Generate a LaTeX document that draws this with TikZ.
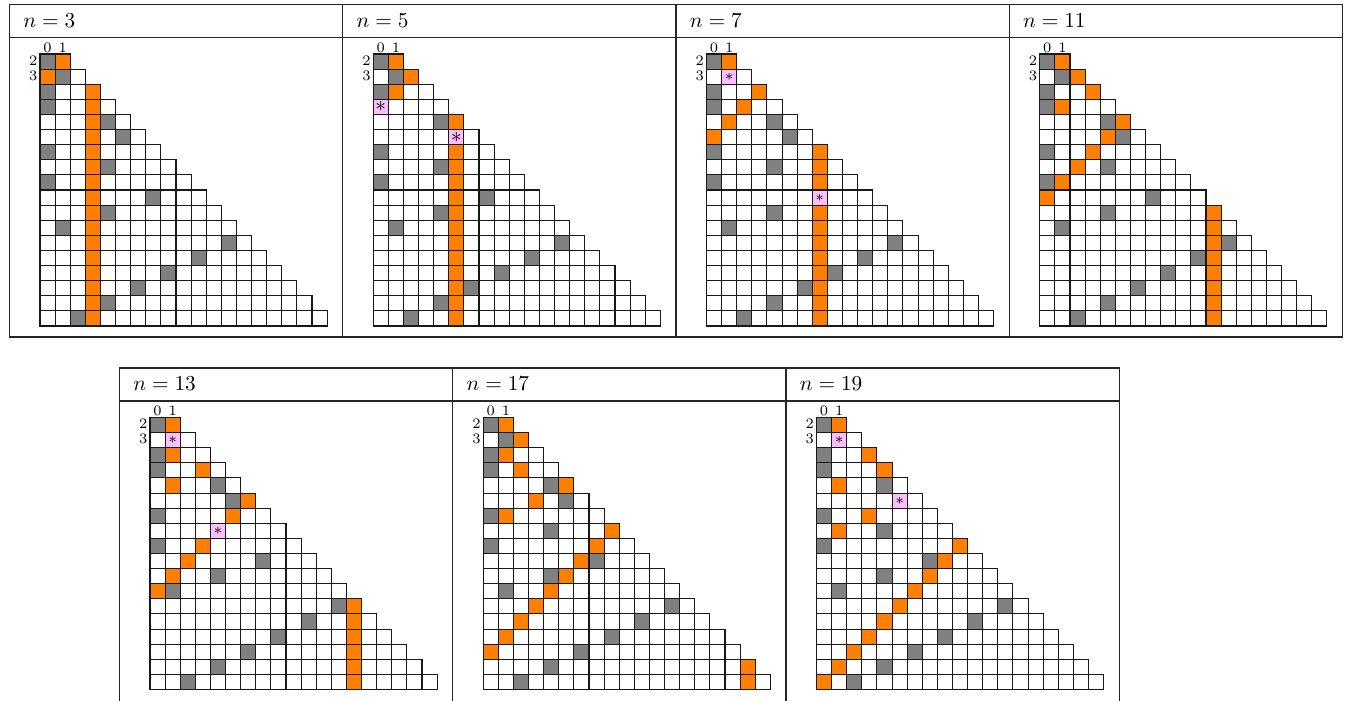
\documentclass[tikz,border=0pt]{standalone}
\definecolor{cellorange}{RGB}{255,128,0}
\definecolor{cellgray}{RGB}{128,128,128}
\definecolor{cellpink}{RGB}{252,190,252}
\tikzset{
  tabline/.style={draw=black!85, line width=0.5pt},
  cellbox/.style={draw=black!90, line width=0.5pt},
  idxlabel/.style={font=\fontsize{6.8}{8}\selectfont, inner sep=0.6pt},
  titletext/.style={anchor=base west, inner sep=0pt},
}
\newcommand\drawpanel[5]{%
 \begin{scope}[shift={(#2,#3)}]
  \node[titletext] (#1-title) at (13.5,22.8) {$n=#4$};
  \node[idxlabel, anchor=south] (#1-c0) at (38.06,49.5) {0};
  \node[idxlabel, anchor=south] (#1-c1) at (53.17,49.5) {1};
  \node[idxlabel, anchor=east] (#1-r2) at (29.5,56.0) {2};
  \node[idxlabel, anchor=east] (#1-r3) at (29.5,71.1) {3};
  \foreach \m in {2,...,19}{
    \pgfmathtruncatemacro\lastcol{\m-1}
    \pgfmathsetmacro\yy{49.5+(\m-2)*15.11}
    \foreach \a in {0,...,\lastcol}{
      \draw[cellbox] ({30.5+\a*15.11},\yy) rectangle ++(15.11,15.11);
    }
  }
  \foreach \m in {2,...,19}{
    \pgfmathtruncatemacro\gcol{mod(40,\m)}
    \pgfmathtruncatemacro\ocol{mod(#4,\m)}
    \pgfmathsetmacro\yy{49.5+(\m-2)*15.11}
    \ifnum\gcol=\ocol
      \draw[cellbox,fill=cellpink] ({30.5+\gcol*15.11},\yy) rectangle ++(15.11,15.11);
      \node[inner sep=0pt, font=#5] (#1-s\m) at ({30.5+(\gcol+0.5)*15.11},{\yy+7.555}) {$*$};
    \else
      \draw[cellbox,fill=cellgray] ({30.5+\gcol*15.11},\yy) rectangle ++(15.11,15.11);
      \draw[cellbox,fill=cellorange] ({30.5+\ocol*15.11},\yy) rectangle ++(15.11,15.11);
    \fi
  }
 \end{scope}}
\begin{document}
\begin{tikzpicture}[x=0.4695pt,y=-0.4695pt]
  \useasboundingbox (0,0) rectangle (1346,700);
  % top table
  \draw[tabline] (9.5,4.5) rectangle (1342.5,337);
  \draw[tabline] (9.5,37.5) -- (1342.5,37.5);
  \draw[tabline] (342.75,4.5) -- (342.75,337);
  \draw[tabline] (676,4.5) -- (676,337);
  \draw[tabline] (1009.25,4.5) -- (1009.25,337);
  % bottom table
  \draw[tabline] (119.5,705) -- (119.5,368) -- (1119.25,368) -- (1119.25,705);
  \draw[tabline] (119.5,401) -- (1119.25,401);
  \draw[tabline] (452.75,368) -- (452.75,705);
  \draw[tabline] (786,368) -- (786,705);
  % panels
  \drawpanel{p3}{9.5}{4.5}{3}{\scriptsize}
  \drawpanel{p5}{342.75}{4.5}{5}{\normalsize}
  \drawpanel{p7}{676}{4.5}{7}{\scriptsize}
  \drawpanel{p11}{1009.25}{4.5}{11}{\scriptsize}
  \drawpanel{p13}{119.5}{368}{13}{\scriptsize}
  \drawpanel{p17}{452.75}{368}{17}{\scriptsize}
  \drawpanel{p19}{786}{368}{19}{\scriptsize}
\end{tikzpicture}
\end{document}
